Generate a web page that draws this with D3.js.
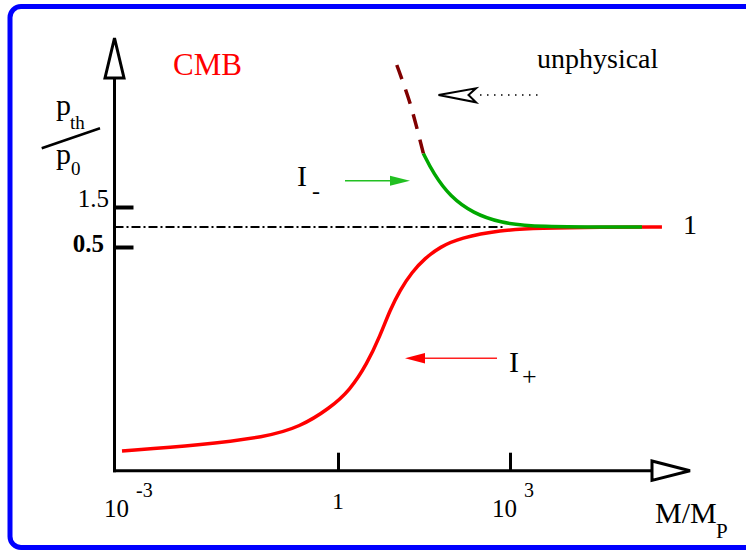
<!DOCTYPE html>
<html>
<head>
<meta charset="utf-8">
<script src="https://cdnjs.cloudflare.com/ajax/libs/d3/7.8.5/d3.min.js"></script>
<style>
body { margin: 0; background: #fff; }
text { font-family: "Liberation Serif", "Times New Roman", serif; }
</style>
</head>
<body>
<script>
// I+ branch (red), M/M_P vs p_th/p_0
var redMass  = [1e-3, 0.0121, 0.1, 0.296, 0.774, 1.62, 3.2, 5.4, 8.07, 12.1, 19.5, 32.9, 60, 134, 670, 3340, 37000, 447000];
var redRatio = [0.044, 0.0574, 0.0753, 0.0977, 0.140, 0.180, 0.2385, 0.301, 0.359, 0.404, 0.444, 0.475, 0.5, 0.725, 0.925, 0.975, 1.0, 1.0];

// I- branch (green)
var greenMass  = [30.8, 46, 90, 230, 670, 2500, 200000];
var greenRatio = [2.84, 2.34, 1.76, 1.34, 1.11, 1.0, 1.0];

// unphysical continuation of I- (dashed)
var unphysMass  = [10.6, 18, 30.8];
var unphysRatio = [5.05, 4.1, 2.84];

var xTickValues = [1e-3, 1, 1e3];
var xTickBase   = ["10", "1", "10"];
var xTickExp    = ["-3", "", "3"];

var yTickValues = [0.5, 1.5];
var yTickLabels = ["0.5", "1.5"];

var svg = d3.select('body').append('svg')
  .attr('width', 746)
  .attr('height', 550)
  .attr('font-family', '"Liberation Serif", "Times New Roman", serif');

// frame
svg.append('rect')
  .attr('x', 10).attr('y', 6.5)
  .attr('width', 780).attr('height', 541)
  .attr('rx', 11).attr('ry', 11)
  .attr('fill', 'none')
  .attr('stroke', '#0000ff')
  .attr('stroke-width', 5);

// schematic axes: log mass, ratio squeezed below 0.5
var x = d3.scaleLog().domain([1e-3, 1, 1e3]).range([122, 338, 510]);
var y = d3.scaleLinear().domain([0, 0.5, 1.5]).range([470.7, 247, 207]);

var x0 = 114.5, yAxis0 = 470.7;

// reference line at 1
svg.append('line')
  .attr('x1', x0).attr('x2', 503)
  .attr('y1', y(1)).attr('y2', y(1))
  .attr('stroke', 'black')
  .attr('stroke-width', 2)
  .attr('stroke-dasharray', '9,3,2,3');

var line = d3.line()
  .x(function(d){ return x(d[0]); })
  .y(function(d){ return y(d[1]); })
  .curve(d3.curveBasis);

svg.append('path')
  .datum(d3.zip(redMass, redRatio))
  .attr('d', line)
  .attr('fill', 'none')
  .attr('stroke', '#ff0000')
  .attr('stroke-width', 3.5);

svg.append('path')
  .datum(d3.zip(greenMass, greenRatio))
  .attr('d', line)
  .attr('fill', 'none')
  .attr('stroke', '#00a800')
  .attr('stroke-width', 3.5);

svg.append('path')
  .datum(d3.zip(unphysMass, unphysRatio))
  .attr('d', line.curve(d3.curveCatmullRom))
  .attr('fill', 'none')
  .attr('stroke', '#800000')
  .attr('stroke-width', 3.5)
  .attr('stroke-dasharray', '15,11');

// axis lines + open arrow heads
svg.append('line')
  .attr('x1', x0).attr('x2', x0)
  .attr('y1', yAxis0 + 1.5).attr('y2', 78)
  .attr('stroke', 'black').attr('stroke-width', 3);
svg.append('path')
  .attr('d', 'M114.5,38 L105,78 L124,78 Z')
  .attr('fill', 'white').attr('stroke', 'black').attr('stroke-width', 3);

svg.append('line')
  .attr('x1', x0 - 1.5).attr('x2', 652)
  .attr('y1', yAxis0).attr('y2', yAxis0)
  .attr('stroke', 'black').attr('stroke-width', 3);
svg.append('path')
  .attr('d', 'M690,470.7 L652,461 L652,480.4 Z')
  .attr('fill', 'white').attr('stroke', 'black').attr('stroke-width', 3);

// ticks through d3 axes
var xAxis = svg.append('g')
  .attr('transform', 'translate(0,' + yAxis0 + ')')
  .call(d3.axisBottom(x).tickValues(xTickValues.slice(1)).tickSize(-18).tickFormat(''));
xAxis.select('.domain').remove();
xAxis.selectAll('line').attr('stroke', 'black').attr('stroke-width', 3);

var yAx = svg.append('g')
  .attr('transform', 'translate(' + x0 + ',0)')
  .call(d3.axisRight(y).tickValues(yTickValues).tickSize(19).tickFormat(''));
yAx.select('.domain').remove();
yAx.selectAll('line').attr('stroke', 'black').attr('stroke-width', 4);

// x tick labels
xTickValues.forEach(function(v, i){
  var t = svg.append('text').attr('fill', 'black');
  if (xTickExp[i]) {
    var bx = x(v) - 18;
    t.attr('x', bx).attr('y', 516.5).attr('font-size', 25).text(xTickBase[i]);
    svg.append('text').attr('x', bx + 32).attr('y', 497)
      .attr('font-size', 20).text(xTickExp[i]);
  } else {
    t.attr('x', x(v)).attr('y', 509).attr('text-anchor', 'middle')
      .attr('font-size', 24).text(xTickBase[i]);
  }
});

// y tick labels
yTickValues.forEach(function(v, i){
  svg.append('text')
    .attr('x', v == 0.5 ? 104 : 109)
    .attr('y', y(v) + (v == 0.5 ? 5 : 0))
    .attr('text-anchor', 'end')
    .attr('font-size', 25)
    .attr('font-weight', v == 0.5 ? 'bold' : 'normal')
    .text(yTickLabels[i]);
});

// y axis title p_th / p_0
svg.append('text').attr('x', 56).attr('y', 115).attr('font-size', 30).text('p');
svg.append('text').attr('x', 70).attr('y', 129).attr('font-size', 19).text('th');
svg.append('line')
  .attr('x1', 41.7).attr('y1', 148.3).attr('x2', 100).attr('y2', 128.3)
  .attr('stroke', 'black').attr('stroke-width', 2.5);
svg.append('text').attr('x', 56).attr('y', 164).attr('font-size', 30).text('p');
svg.append('text').attr('x', 71).attr('y', 174.5).attr('font-size', 19).text('0');

// x axis title
svg.append('text').attr('x', 655).attr('y', 523).attr('font-size', 30).text('M/M');
svg.append('text').attr('x', 716).attr('y', 537.5).attr('font-size', 21).text('P');

// CMB
svg.append('text').attr('x', 173).attr('y', 75).attr('font-size', 31)
  .attr('fill', '#ff0000').text('CMB');

// asymptote label
svg.append('text').attr('x', 683).attr('y', y(1) + 6.5).attr('font-size', 28).text('1');

// I- label and arrow
svg.append('text').attr('x', 297).attr('y', 186).attr('font-size', 30).text('I');
svg.append('text').attr('x', 312).attr('y', 199).attr('font-size', 24).text('-');
svg.append('line')
  .attr('x1', 345).attr('x2', 392).attr('y1', 180.7).attr('y2', 180.7)
  .attr('stroke', '#22c022').attr('stroke-width', 1.5);
svg.append('path')
  .attr('d', 'M410,180.7 L390,175.7 L390,185.7 Z')
  .attr('fill', '#22c022');

// I+ label and arrow
svg.append('text').attr('x', 509).attr('y', 372).attr('font-size', 30).text('I');
svg.append('text').attr('x', 522).attr('y', 385).attr('font-size', 26).text('+');
svg.append('line')
  .attr('x1', 423).attr('x2', 497).attr('y1', 358.3).attr('y2', 358.3)
  .attr('stroke', '#ff2020').attr('stroke-width', 1.5);
svg.append('path')
  .attr('d', 'M405,358.3 L425,353 L425,363.6 Z')
  .attr('fill', '#ff0000');

// unphysical label and open arrow
svg.append('text').attr('x', 537).attr('y', 68).attr('font-size', 28).text('unphysical');
svg.append('path')
  .attr('d', 'M438.5,95 L476,88.3 L468.5,95 L476,102.3 Z')
  .attr('fill', 'white').attr('stroke', 'black').attr('stroke-width', 2);
svg.append('line')
  .attr('x1', 480).attr('x2', 541).attr('y1', 95).attr('y2', 95)
  .attr('stroke', 'black').attr('stroke-width', 1.5)
  .attr('stroke-dasharray', '1.5,5.5');
</script>
</body>
</html>
